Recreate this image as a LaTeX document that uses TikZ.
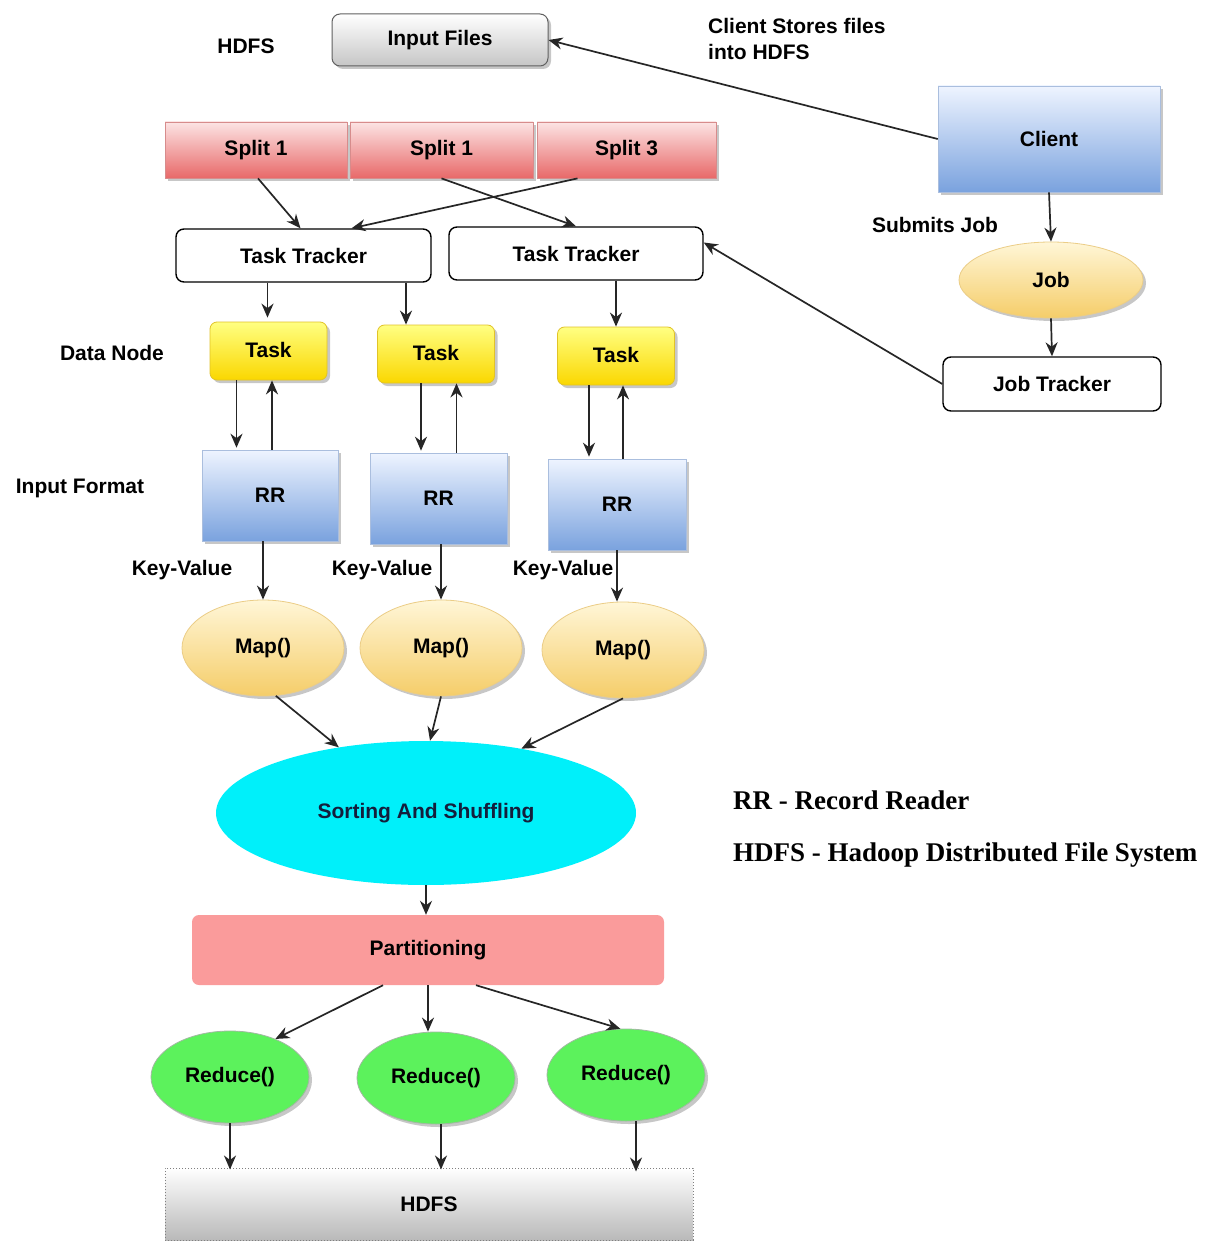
\documentclass[tikz,border=0pt]{standalone}
\usepackage{fontspec}
\setmainfont{Liberation Sans}
\newfontfamily\legendfont{Liberation Serif}
\usetikzlibrary{shapes.geometric,arrows.meta,shadows,calc}

\definecolor{splitTop}{RGB}{252,228,228}
\definecolor{splitBot}{RGB}{232,105,105}
\definecolor{splitLine}{RGB}{215,140,140}
\definecolor{blueTop}{RGB}{238,244,255}
\definecolor{blueBot}{RGB}{122,162,222}
\definecolor{blueLine}{RGB}{170,190,222}
\definecolor{taskTop}{RGB}{255,255,130}
\definecolor{taskBot}{RGB}{250,215,0}
\definecolor{taskLine}{RGB}{225,195,40}
\definecolor{mapTop}{RGB}{255,246,215}
\definecolor{mapBot}{RGB}{245,205,105}
\definecolor{mapLine}{RGB}{235,205,135}
\definecolor{reduceFill}{RGB}{92,242,92}
\definecolor{reduceLine}{RGB}{160,185,160}
\definecolor{sortFill}{RGB}{0,240,250}
\definecolor{partFill}{RGB}{250,155,155}
\definecolor{navyText}{RGB}{20,30,60}

\begin{document}
\begin{tikzpicture}[x=1pt,y=-1pt,
  font=\fontsize{21}{26}\selectfont\bfseries,
  every node/.style={inner sep=0pt, align=center, text=black},
  arr/.style={-{Stealth[length=14pt,width=12pt,inset=4.5pt]}, line width=1.7pt, draw=black!85},
  shadowed/.style={drop shadow={shadow xshift=3pt,shadow yshift=-3pt,opacity=0.22,fill=black}},
  inputbox/.style={rectangle, rounded corners=8pt, draw=gray!75!black, line width=1pt,
    top color=white, bottom color=gray!45, shadowed,
    minimum width=216pt, minimum height=52pt},
  splitbox/.style={rectangle, draw=splitLine, line width=0.8pt,
    top color=splitTop, bottom color=splitBot, shadowed, minimum height=56pt},
  bluebox/.style={rectangle, draw=blueLine, line width=0.6pt,
    top color=blueTop, bottom color=blueBot, shadowed},
  trackbox/.style={rectangle, rounded corners=8pt, draw=black, line width=1.4pt,
    fill=white, minimum height=53pt},
  taskbox/.style={rectangle, rounded corners=7pt, draw=taskLine, line width=0.8pt,
    top color=taskTop, bottom color=taskBot, shadowed,
    minimum width=117pt, minimum height=58pt},
  mapell/.style={ellipse, draw=mapLine, line width=0.8pt,
    top color=mapTop, bottom color=mapBot, shadowed},
  reduceell/.style={ellipse, draw=reduceLine, line width=0.8pt,
    fill=reduceFill, shadowed, minimum width=158pt, minimum height=92pt},
  label/.style={text=black},
  legend/.style={anchor=west, font=\fontsize{27}{32}\selectfont\legendfont\bfseries}
]
\useasboundingbox[fill=white] (0,0) rectangle (1215,1241);

% ---------- storage and splits ----------
\node[label] (hdfsTop) at (246,46) {HDFS};
\node[inputbox] (input) at (440,40) {Input Files};
\node[label, anchor=west, align=left] (storeNote) at (708,39) {Client Stores files\\into HDFS};

\node[splitbox, minimum width=182pt] (split1) at (256,150) {Split 1};
\node[splitbox, minimum width=183pt] (split2) at (441.5,150) {Split 1};
\node[splitbox, minimum width=179pt] (split3) at (626.5,150) {Split 3};

% ---------- client side ----------
\node[bluebox, minimum width=222pt, minimum height=106pt] (client) at (1049,139) {Client};
\node[label] (submits) at (935,225) {Submits Job};
\node[mapell, minimum width=184pt, minimum height=76pt] (job) at (1051,280) {Job};
\node[trackbox, minimum width=218pt, minimum height=54pt] (jobtracker) at (1052,384) {Job Tracker};

% ---------- task trackers and tasks ----------
\node[trackbox, minimum width=255pt] (tt1) at (303.5,255.5) {Task Tracker};
\node[trackbox, minimum width=254pt] (tt2) at (576,253.5) {Task Tracker};

\node[label] (datanode) at (112,353) {Data Node};
\node[taskbox] (task1) at (268.5,351) {\raisebox{3pt}{Task}};
\node[taskbox] (task2) at (436,354) {\raisebox{3pt}{Task}};
\node[taskbox] (task3) at (616,356) {\raisebox{3pt}{Task}};

\node[label] (inputformat) at (80,488) {Input Format};
\node[bluebox, minimum width=136pt, minimum height=91pt] (rr1) at (270,495.5) {RR};
\node[bluebox, minimum width=137pt, minimum height=91pt] (rr2) at (438.5,498.5) {RR};
\node[bluebox, minimum width=138pt, minimum height=91pt] (rr3) at (617,504.5) {RR};

\node[label] (kv1) at (182,570) {Key-Value};
\node[label] (kv2) at (382,570) {Key-Value};
\node[label] (kv3) at (563,570) {Key-Value};

\node[mapell, minimum width=162pt, minimum height=96pt] (map1) at (263,648) {Map()};
\node[mapell, minimum width=162pt, minimum height=96pt] (map2) at (441,648) {Map()};
\node[mapell, minimum width=162pt, minimum height=96pt] (map3) at (623,650) {Map()};

% ---------- shuffle, partition, reduce ----------
\node[ellipse, fill=sortFill, minimum width=420pt, minimum height=144pt, text=navyText] (sort) at (426,813) {Sorting And Shuffling};
\node[rectangle, rounded corners=7pt, fill=partFill, minimum width=472pt, minimum height=70pt] (part) at (428,950) {Partitioning};

\node[reduceell] (red1) at (230,1077) {Reduce()};
\node[reduceell] (red2) at (436,1078) {Reduce()};
\node[reduceell] (red3) at (626,1075) {Reduce()};

\node[rectangle, draw=gray, dotted, line width=1pt, top color=white, bottom color=gray!55,
      minimum width=528pt, minimum height=72pt] (hdfsBot) at (429,1204) {HDFS};

% ---------- legend ----------
\node[legend] (legRR) at (733,800) {RR - Record Reader};
\node[legend] (legHDFS) at (733,855) {HDFS - Hadoop Distributed File System};

% ---------- connectors ----------
\draw[arr] (client.west) -- (input.east);
\draw[arr] (client.south) -- (job.north);
\draw[arr] (job.south) -- (jobtracker.north);
\draw[arr] (jobtracker.west) -- ([yshift=11pt]tt2.east);

\draw[arr] ([xshift=2pt]split1.south) -- ([xshift=-3pt]tt1.north);
\draw[arr] (split2.south) -- (tt2.north);
\draw[arr] ([xshift=-49pt]split3.south) -- ([xshift=48pt]tt1.north);

\draw[arr] ([xshift=-36pt]tt1.south) -- ([xshift=-36pt,yshift=4pt]tt1.south |- task1.north);
\draw[arr] ([xshift=102.5pt]tt1.south) -- ([xshift=102.5pt]tt1.south |- task2.north);
\draw[arr] ([xshift=40pt]tt2.south) -- ([xshift=40pt]tt2.south |- task3.north);

\draw[arr] ([xshift=-32pt]task1.south) -- ([xshift=-32pt,yshift=2pt]task1.south |- rr1.north);
\draw[arr] ([xshift=2pt]rr1.north) -- ([xshift=2pt]rr1.north |- task1.south);
\draw[arr] ([xshift=-15pt]task2.south) -- ([xshift=-15pt,yshift=2pt]task2.south |- rr2.north);
\draw[arr] ([xshift=18pt]rr2.north) -- ([xshift=18pt]rr2.north |- task2.south);
\draw[arr] ([xshift=-27pt]task3.south) -- ([xshift=-27pt,yshift=2pt]task3.south |- rr3.north);
\draw[arr] ([xshift=6pt]rr3.north) -- ([xshift=6pt]rr3.north |- task3.south);

\draw[arr] ([xshift=-7pt]rr1.south) -- (map1.north);
\draw[arr] ([xshift=2.5pt]rr2.south) -- (map2.north);
\draw[arr] (rr3.south) -- ([xshift=-6pt]map3.north);

\draw[arr] (map1.-75) -- (sort.143);
\draw[arr] (map2.south) -- ([xshift=4pt]sort.north);
\draw[arr] (map3.south) -- (sort.34);

\draw[arr] (sort.south) -- ([xshift=-2pt]part.north);
\draw[arr] ([xshift=-45pt]part.south) -- (red1.40);
\draw[arr] (part.south) -- (part.south |- red2.north);
\draw[arr] ([xshift=48pt]part.south) -- (red3.97);

\draw[arr] (red1.south) -- ([yshift=-2pt]red1.south |- hdfsBot.north);
\draw[arr] ([xshift=5pt]red2.south) -- ([xshift=5pt,yshift=-2pt]red2.south |- hdfsBot.north);
\draw[arr] ([xshift=10pt]red3.south) -- ([xshift=10pt,yshift=-4pt]red3.south |- hdfsBot.north);
\end{tikzpicture}
\end{document}
